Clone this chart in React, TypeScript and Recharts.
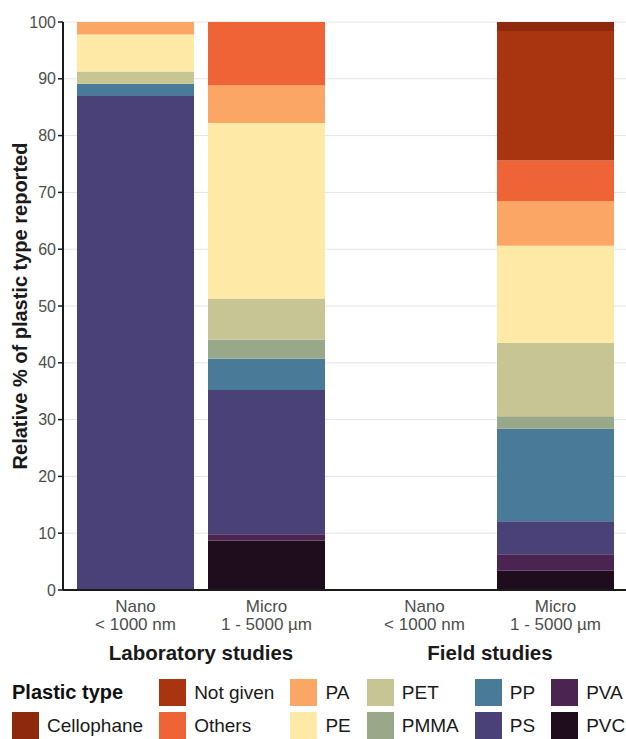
import React from "react";
import { BarChart, Bar, XAxis, YAxis, CartesianGrid } from "recharts";

const FONT = '"Liberation Sans", Arial, Helvetica, sans-serif';

// stack order, bottom to top
const plasticTypes = [
  "PVC",
  "PVA",
  "PS",
  "PP",
  "PMMA",
  "PET",
  "PE",
  "PA",
  "Others",
  "Not given",
  "Cellophane",
];

const typeColors: Record<string, string> = {
  Cellophane: "#8e2a0c",
  "Not given": "#a83410",
  Others: "#ef6436",
  PA: "#fca665",
  PE: "#feeaa6",
  PET: "#c7c594",
  PMMA: "#98a889",
  PP: "#497a98",
  PS: "#4a4179",
  PVA: "#4b2452",
  PVC: "#1f0c1d",
};

// legend reads alphabetically, two per column
const legendOrder = [
  "Cellophane",
  "Not given",
  "Others",
  "PA",
  "PE",
  "PET",
  "PMMA",
  "PP",
  "PS",
  "PVA",
  "PVC",
];

const sizeClasses = ["Nano", "Micro"];
const sizeRanges = ["< 1000 nm", "1 - 5000 µm"];
const studyGroups = ["Laboratory studies", "Field studies"];

// % per plastic type, same order as plasticTypes
const labNano = [0, 0, 86.96, 2.17, 0, 2.17, 6.52, 2.17, 0, 0, 0];
const labMicro = [8.7, 1.1, 25.4, 5.5, 3.4, 7.2, 30.9, 6.6, 11.2, 0, 0];
const fieldNano = [0, 0, 0, 0, 0, 0, 0, 0, 0, 0, 0];
const fieldMicro = [3.4, 2.9, 5.8, 16.3, 2.2, 12.9, 17.1, 7.9, 7.1, 22.8, 1.6];

const yTicks = [0, 10, 20, 30, 40, 50, 60, 70, 80, 90, 100];

function makeRows(series: number[][]) {
  return series.map((vals, i) => {
    const row: Record<string, any> = { size: sizeClasses[i], range: sizeRanges[i] };
    plasticTypes.forEach((t, j) => {
      row[t] = vals[j];
    });
    return row;
  });
}

const labData = makeRows([labNano, labMicro]);
const fieldData = makeRows([fieldNano, fieldMicro]);

const SizeTick = (props: any) => {
  const { x, y, payload, index } = props;
  return (
    <g transform={`translate(${x},${y})`}>
      <text textAnchor="middle" fill="#4d4d4d" fontSize={17} fontFamily={FONT}>
        <tspan x={0} dy={14}>
          {payload.value}
        </tspan>
        <tspan x={0} dy={17.5}>
          {sizeRanges[index]}
        </tspan>
      </text>
    </g>
  );
};

const CHART_H = 640;
const MARGIN = { top: 22, right: 0, bottom: 0, left: 0 };

function Panel({
  data,
  width,
  padding,
  showY,
}: {
  data: any[];
  width: number;
  padding: { left: number; right: number };
  showY: boolean;
}) {
  return (
    <BarChart width={width} height={CHART_H} data={data} margin={MARGIN}>
      <CartesianGrid
        vertical={false}
        stroke="#e4e4e4"
        horizontalValues={yTicks}
      />
      <XAxis
        dataKey="size"
        padding={padding}
        height={50}
        tickSize={0}
        tickMargin={8}
        tickLine={false}
        axisLine={{ stroke: "#1a1a1a", strokeWidth: 2 }}
        tick={<SizeTick />}
        interval={0}
      />
      <YAxis
        hide={!showY}
        width={63}
        domain={[0, 100]}
        ticks={yTicks}
        allowDataOverflow
        tickSize={5}
        tickMargin={2}
        axisLine={{ stroke: "#1a1a1a", strokeWidth: 2 }}
        tickLine={{ stroke: "#1a1a1a", strokeWidth: 1.5 }}
        tick={{ fill: "#4d4d4d", fontSize: 16, fontFamily: FONT }}
        label={
          showY
            ? {
                value: "Relative % of plastic type reported",
                angle: -90,
                position: "center",
                dx: -12,
                fill: "#1a1a1a",
                fontSize: 20,
                fontWeight: "bold",
                fontFamily: FONT,
              }
            : undefined
        }
      />
      {plasticTypes.map((t) => (
        <Bar
          key={t}
          dataKey={t}
          stackId="a"
          fill={typeColors[t]}
          barSize={117}
          isAnimationActive={false}
        />
      ))}
    </BarChart>
  );
}

function Legend() {
  const cells: (string | null)[] = [null, ...legendOrder];
  const columns: (string | null)[][] = [];
  for (let i = 0; i < cells.length; i += 2) columns.push(cells.slice(i, i + 2));
  return (
    <div
      style={{
        position: "absolute",
        left: 12,
        top: 679,
        display: "flex",
        columnGap: 16,
        fontFamily: FONT,
      }}
    >
      {columns.map((col, ci) => (
        <div key={ci} style={{ display: "flex", flexDirection: "column", rowGap: 6 }}>
          {col.map((name, ri) =>
            name === null ? (
              <div
                key={ri}
                style={{
                  height: 27,
                  lineHeight: "27px",
                  fontSize: 20,
                  fontWeight: "bold",
                  color: "#111",
                }}
              >
                Plastic type
              </div>
            ) : (
              <div key={ri} style={{ display: "flex", alignItems: "center", height: 27 }}>
                <div
                  style={{
                    width: 27,
                    height: 27,
                    background: typeColors[name],
                    marginRight: 8,
                  }}
                />
                <span style={{ fontSize: 19, color: "#1a1a1a", whiteSpace: "nowrap" }}>
                  {name}
                </span>
              </div>
            )
          )}
        </div>
      ))}
    </div>
  );
}

export default function App() {
  const groupCenters = [201, 490];
  return (
    <div
      style={{
        position: "absolute",
        left: 0,
        top: 0,
        width: 626,
        height: 739,
        background: "#fff",
        fontFamily: FONT,
        overflow: "hidden",
      }}
    >
      <div style={{ position: "absolute", left: 0, top: 0 }}>
        <Panel data={labData} width={345} padding={{ left: 7, right: 13 }} showY />
      </div>
      <div style={{ position: "absolute", left: 345, top: 0 }}>
        <Panel data={fieldData} width={281} padding={{ left: 14, right: 5 }} showY={false} />
      </div>
      {studyGroups.map((g, i) => (
        <div
          key={g}
          style={{
            position: "absolute",
            left: groupCenters[i],
            top: 641,
            transform: "translateX(-50%)",
            fontSize: 20.5,
            lineHeight: "24px",
            fontWeight: "bold",
            color: "#1a1a1a",
            whiteSpace: "nowrap",
          }}
        >
          {g}
        </div>
      ))}
      <Legend />
    </div>
  );
}
